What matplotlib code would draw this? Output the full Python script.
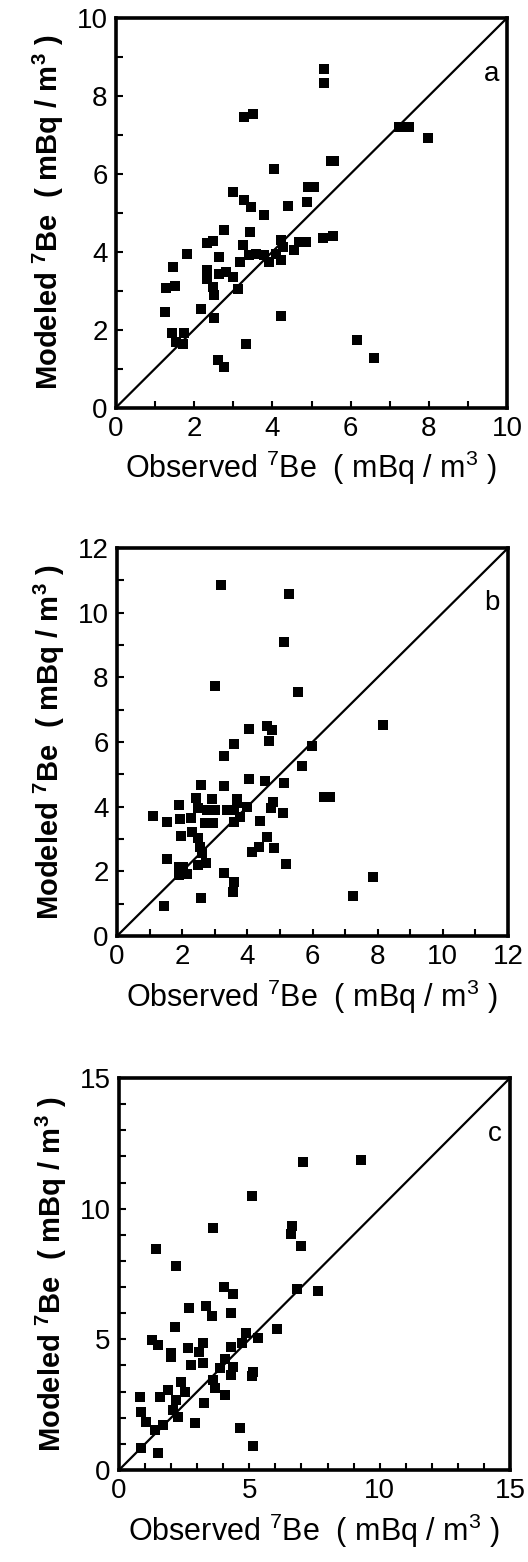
import matplotlib
matplotlib.use('Agg')
import matplotlib.pyplot as plt
from matplotlib.ticker import MultipleLocator

plt.rcParams['font.family'] = ['Liberation Sans', 'DejaVu Sans']
plt.rcParams['mathtext.default'] = 'regular'

# panel a
a_obs = [5.33, 5.33, 3.27, 3.50, 7.25, 7.50, 7.97, 4.03, 5.50, 5.58, 2.98, 3.28, 3.45,
         3.79, 4.39, 4.88, 4.90, 5.07, 2.75, 3.43, 2.33, 2.47, 1.82, 2.63, 3.26, 1.45,
         1.28, 1.51, 2.33, 2.34, 2.47, 2.50, 2.64, 2.81, 2.98, 3.11, 3.18, 3.41, 3.58,
         3.79, 3.92, 4.09, 4.22, 4.22, 4.26, 4.54, 4.69, 4.86, 5.29, 5.54, 1.26, 2.17,
         2.50, 1.43, 1.75, 1.53, 1.71, 4.22, 3.32, 6.16, 6.61, 2.62, 2.75]
a_mod = [8.68, 8.34, 7.45, 7.53, 7.19, 7.19, 6.91, 6.13, 6.33, 6.33, 5.54, 5.34, 5.15,
         4.94, 5.17, 5.27, 5.66, 5.66, 4.55, 4.51, 4.22, 4.28, 3.95, 3.86, 4.16, 3.61,
         3.07, 3.11, 3.52, 3.31, 3.09, 2.88, 3.44, 3.48, 3.35, 3.05, 3.74, 3.91, 3.95,
         3.91, 3.74, 3.95, 4.29, 3.78, 4.12, 4.04, 4.25, 4.25, 4.36, 4.40, 2.45, 2.54,
         2.31, 1.91, 1.91, 1.68, 1.64, 2.34, 1.64, 1.74, 1.28, 1.23, 1.04]

# panel b
b_obs = [3.20, 5.28, 5.11, 3.02, 5.57, 8.16, 4.06, 4.60, 4.75, 4.65, 3.58, 3.27, 5.98,
         5.69, 4.06, 4.53, 5.14, 2.59, 3.27, 6.34, 6.54, 1.89, 2.43, 2.91, 3.68, 4.79,
         4.73, 5.09, 1.10, 1.53, 1.92, 2.27, 2.50, 2.76, 3.02, 2.96, 2.71, 3.37, 3.58,
         3.68, 3.78, 3.99, 3.58, 4.40, 1.97, 2.30, 2.50, 2.56, 2.61, 4.14, 4.37, 4.60,
         4.83, 1.53, 1.89, 1.89, 2.15, 2.04, 2.50, 2.74, 5.18, 3.29, 3.58, 3.55, 2.59,
         1.45, 7.85, 7.23]
b_mod = [10.86, 10.57, 9.10, 7.73, 7.54, 6.53, 6.40, 6.50, 6.37, 6.04, 5.94, 5.57, 5.88,
         5.26, 4.86, 4.80, 4.74, 4.67, 4.64, 4.29, 4.29, 4.05, 4.26, 4.23, 4.23, 4.15,
         3.95, 3.81, 3.71, 3.54, 3.61, 3.64, 3.95, 3.90, 3.90, 3.49, 3.49, 3.90, 3.90,
         4.10, 3.69, 4.00, 3.54, 3.56, 3.09, 3.23, 3.02, 2.76, 2.56, 2.61, 2.76, 3.07,
         2.73, 2.37, 2.14, 1.89, 1.92, 2.14, 2.20, 2.27, 2.22, 1.96, 1.68, 1.37, 1.17,
         0.93, 1.81, 1.24]

# panel c
c_obs = [7.06, 9.27, 5.11, 3.61, 6.62, 6.58, 7.00, 1.43, 2.18, 4.02, 4.38, 6.81, 7.62,
         2.69, 3.33, 3.55, 4.31, 2.14, 6.07, 1.27, 1.50, 1.98, 2.01, 2.65, 3.22, 3.07,
         2.78, 3.22, 4.89, 4.28, 4.70, 5.34, 4.06, 4.38, 4.31, 3.87, 5.15, 5.10, 3.61,
         3.67, 4.06, 3.26, 2.91, 4.63, 5.14, 1.50, 0.79, 0.86, 1.05, 1.37, 1.69, 1.56,
         1.88, 2.20, 2.39, 2.52, 2.07, 2.26, 0.86]
c_mod = [11.80, 11.86, 10.50, 9.27, 9.34, 9.02, 8.57, 8.46, 7.81, 7.02, 6.72, 6.91, 6.86,
         6.21, 6.28, 5.89, 6.02, 5.49, 5.40, 4.98, 4.78, 4.47, 4.34, 4.66, 4.85, 4.53,
         4.02, 4.08, 5.23, 4.72, 4.85, 5.04, 4.24, 3.95, 3.64, 3.89, 3.75, 3.60, 3.44,
         3.13, 2.87, 2.58, 1.81, 1.62, 0.93, 0.66, 2.81, 2.23, 1.85, 1.53, 1.72, 2.81,
         3.06, 2.68, 3.38, 3.00, 2.30, 2.04, 0.83]

panels = [
    (a_obs, a_mod, 10, 2, 'a', [116 / 528, 1 - 407.5 / 1562, 391 / 528, 389.5 / 1562]),
    (b_obs, b_mod, 12, 2, 'b', [117 / 528, 1 - 936 / 1562, 391 / 528, 388 / 1562]),
    (c_obs, c_mod, 15, 5, 'c', [119 / 528, 1 - 1470 / 1562, 391 / 528, 392 / 1562]),
]

fig = plt.figure(figsize=(5.28, 15.62), dpi=100)

for obs, mod, lim, step, tag, rect in panels:
    ax = fig.add_axes(rect)
    ax.plot([0, lim], [0, lim], color='black', lw=1.6, zorder=2)
    ax.plot(obs, mod, 's', color='black', ms=7.5, mew=0, zorder=3)
    ax.set_xlim(0, lim)
    ax.set_ylim(0, lim)
    ax.xaxis.set_major_locator(MultipleLocator(step))
    ax.yaxis.set_major_locator(MultipleLocator(step))
    ax.xaxis.set_minor_locator(MultipleLocator(1))
    ax.yaxis.set_minor_locator(MultipleLocator(1))
    ax.tick_params(which='both', direction='in', length=5, width=1.5,
                   top=False, right=False, labelsize=20, pad=6)
    for sp in ax.spines.values():
        sp.set_linewidth(2.6)
    ax.text(lim * 0.96, lim * 0.857, tag, ha='center', va='center', fontsize=20)
    ax.set_xlabel('Observed $^{7}$Be  ( mBq / m$^{3}$ )', fontsize=22, labelpad=5)
    ax.set_ylabel('Modeled $^{7}$Be  ( mBq / m$^{3}$ )', fontsize=21,
                  fontweight='bold', labelpad=8)

fig.savefig('out.png', dpi=100)
